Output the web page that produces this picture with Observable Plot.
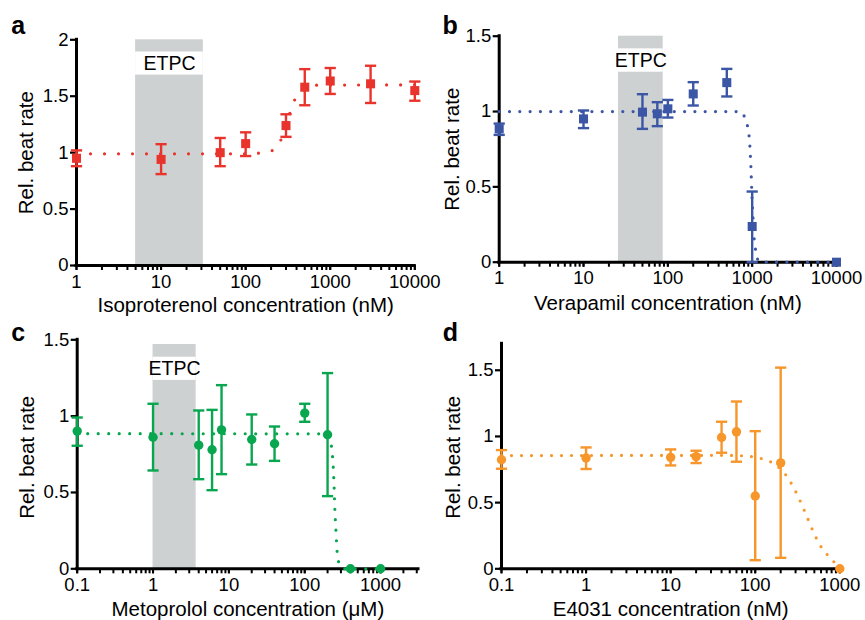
<!DOCTYPE html>
<html><head><meta charset="utf-8">
<script src="https://cdn.jsdelivr.net/npm/d3@7"></script>
<script src="https://cdn.jsdelivr.net/npm/@observablehq/plot@0.6"></script>
<style>
html,body{margin:0;padding:0;background:#fff;}
#wrap{position:relative;width:865px;height:620px;overflow:hidden;background:#fff;}
.panel{position:absolute;}
</style></head><body><div id="wrap"></div>
<script>
// ---------- data ----------
// a: Isoproterenol (nM)
const isoConc = [1, 10, 50, 100, 300, 500, 1000, 3000, 10000];
const isoMean = [0.95, 0.94, 1.00, 1.08, 1.24, 1.58, 1.635, 1.61, 1.55];
const isoLo   = [0.88, 0.81, 0.88, 0.97, 1.14, 1.42, 1.52, 1.44, 1.46];
const isoHi   = [1.02, 1.075, 1.13, 1.18, 1.34, 1.74, 1.75, 1.77, 1.63];
const isoFitX = [1, 100, 140, 200, 258, 330, 371, 488, 650, 10000];
const isoFitY = [0.99, 0.99, 0.995, 1.015, 1.105, 1.34, 1.45, 1.557, 1.598, 1.6];
const isoEtpc = [5, 31.6];

// b: Verapamil (nM)
const verConc = [1, 10, 50, 75, 100, 200, 500, 1000, 10000];
const verMean = [0.885, 0.951, 0.996, 0.985, 1.018, 1.117, 1.192, 0.237, 0];
const verLo   = [0.845, 0.89, 0.885, 0.903, 0.96, 1.04, 1.10, 0, null];
const verHi   = [0.92, 1.007, 1.115, 1.062, 1.077, 1.195, 1.283, 0.469, null];
const verFitX = [1, 727, 832, 896, 929, 950, 968, 985, 1000, 1016, 1045, 1080, 1125, 1200, 1300, 10000];
const verFitY = [1.0, 1.0, 0.947, 0.88, 0.81, 0.72, 0.62, 0.5, 0.40, 0.33, 0.19, 0.11, 0.05, 0.005, 0, 0];
const verEtpc = [26, 88];

// c: Metoprolol (µM)
const metConc = [0.1, 1, 4, 6, 8, 20, 40, 100, 200, 400, 1000];
const metMean = [0.902, 0.862, 0.81, 0.78, 0.91, 0.847, 0.819, 1.02, 0.878, 0, 0];
const metLo   = [0.806, 0.644, 0.587, 0.515, 0.62, 0.683, 0.707, 0.963, 0.476, null, null];
const metHi   = [0.991, 1.081, 1.037, 1.041, 1.203, 1.011, 0.932, 1.081, 1.282, null, null];
const metFitX = [0.1, 150, 200, 223, 237, 244, 249, 257, 266, 276, 300, 330, 1000];
const metFitY = [0.885, 0.884, 0.875, 0.814, 0.675, 0.54, 0.40, 0.264, 0.126, 0.059, 0.01, 0, 0];
const metEtpc = [1, 3.7];

// d: E4031 (nM)
const e4Conc = [0.1, 1, 10, 20, 40, 60, 100, 200, 1000];
const e4Mean = [0.824, 0.837, 0.842, 0.847, 0.992, 1.035, 0.55, 0.80, 0];
const e4Lo   = [0.756, 0.754, 0.781, 0.799, 0.877, 0.809, 0.065, 0.083, null];
const e4Hi   = [0.897, 0.917, 0.902, 0.892, 1.111, 1.264, 1.04, 1.52, null];
const e4FitX = [0.1, 40, 70, 94, 124, 161, 243, 319, 401, 502, 570, 676, 812, 1000];
const e4FitY = [0.855, 0.857, 0.854, 0.846, 0.829, 0.799, 0.688, 0.55, 0.407, 0.26, 0.19, 0.123, 0.068, 0];

// axis ticks
const ticksNM = [1, 10, 100, 1000, 10000];
const ticksLow = [0.1, 1, 10, 100, 1000];
const yTicks2 = [0, 0.5, 1, 1.5, 2];
const yTicks15 = [0, 0.5, 1, 1.5];

// ---------- drawing ----------
const FONT = "'Liberation Sans', Arial, Helvetica, sans-serif";
const capSymbol = {draw(ctx, size) { const w = Math.sqrt(size / Math.PI); ctx.moveTo(-w, 0); ctx.lineTo(w, 0); }};

function minorTicks(lo, hi) {
  const out = [];
  for (let e = Math.floor(Math.log10(lo)); e <= Math.ceil(Math.log10(hi)); e++) {
    for (let k = 1; k <= 9; k++) {
      const v = +(k * Math.pow(10, e)).toPrecision(6);
      if (v >= lo * 0.999 && v <= hi * 1.001) out.push(v);
    }
  }
  return out;
}

function panel(cfg) {
  const pts = cfg.conc.map((c, i) => ({x: c, y: cfg.mean[i], lo: cfg.lo[i], hi: cfg.hi[i]}));
  const errs = pts.filter(d => d.lo != null && d.hi != null);
  const fit = cfg.fitX.map((x, i) => ({x, y: cfg.fitY[i]}));
  const g = cfg.geom;
  const marks = [];
  if (cfg.etpc) {
    const [a, b] = cfg.etpc;
    marks.push(Plot.rect([{x1: a, x2: b, y1: 0, y2: cfg.etpcTop}], {x1: "x1", x2: "x2", y1: "y1", y2: "y2", fill: "#cdd1d2"}));
    marks.push(Plot.rect([{x1: a, x2: b, y1: cfg.etpcBox[0], y2: cfg.etpcBox[1]}], {x1: "x1", x2: "x2", y1: "y1", y2: "y2", fill: "#ffffff"}));
    marks.push(Plot.text([{x: Math.sqrt(a * b), y: (cfg.etpcBox[0] + cfg.etpcBox[1]) / 2, t: "ETPC"}], {x: "x", y: "y", text: "t", fontSize: 19.5, fill: "#000"}));
  }
  marks.push(Plot.axisY({ticks: cfg.yTicks, tickSize: 6, tickPadding: 2, strokeWidth: 2.2, tickFormat: d => String(d), label: null}));
  marks.push(Plot.axisX({ticks: minorTicks(cfg.xDomain[0], cfg.xDomain[1]), tickSize: 5, strokeWidth: 2, tickFormat: () => "", label: null}));
  marks.push(Plot.axisX({ticks: cfg.xTicks, tickSize: 5, tickPadding: 4, strokeWidth: 2, tickFormat: d => String(d), label: null}));
  marks.push(Plot.ruleY([0], {strokeWidth: 3, strokeLinecap: "square"}));
  marks.push(Plot.ruleX([cfg.xDomain[0]], {strokeWidth: 3, strokeLinecap: "square"}));
  marks.push(Plot.line(fit, {x: "x", y: "y", stroke: cfg.color, strokeWidth: 3.2, strokeDasharray: `0 ${cfg.dash}`, strokeLinecap: "round", curve: "monotone-x"}));
  marks.push(Plot.ruleX(errs, {x: "x", y1: "lo", y2: "hi", stroke: cfg.color, strokeWidth: 2.4}));
  marks.push(Plot.dot(errs, {x: "x", y: "hi", symbol: capSymbol, r: 5.6, stroke: cfg.color, strokeWidth: 2.4, fill: "none"}));
  marks.push(Plot.dot(errs, {x: "x", y: "lo", symbol: capSymbol, r: 5.6, stroke: cfg.color, strokeWidth: 2.4, fill: "none"}));
  marks.push(Plot.dot(pts, {x: "x", y: "y", symbol: cfg.symbol, r: cfg.symbol === "square" ? 5.1 : 4.7, fill: cfg.color, stroke: "none"}));
  // titles
  marks.push(Plot.text([cfg.xTitle], {text: d => d, frameAnchor: "bottom", textAnchor: "middle", lineAnchor: "bottom", dy: cfg.xTitleDy, fontSize: 20.5, fill: "#000"}));
  marks.push(Plot.text(["Rel. beat rate"], {text: d => d, frameAnchor: "left", textAnchor: "middle", lineAnchor: "middle", rotate: -90, dx: cfg.yTitleDx, dy: cfg.yTitleDy || 0, fontSize: 20.5, fill: "#000"}));
  marks.push(Plot.text([cfg.letter], {text: d => d, frameAnchor: "top-left", textAnchor: "start", lineAnchor: "bottom", dx: cfg.letterDx, dy: cfg.letterDy, fontSize: 25, fontWeight: "bold", fill: "#000"}));

  const svg = Plot.plot({
    width: g.w, height: g.h,
    marginLeft: g.x0 - g.left, marginRight: g.left + g.w - g.x1,
    marginTop: g.y0 - g.top, marginBottom: g.top + g.h - g.y1,
    x: {type: "log", domain: cfg.xDomain, label: null},
    y: {domain: cfg.yDomain, label: null},
    style: {fontFamily: FONT, fontSize: "18.5px", color: "#000", background: "transparent", overflow: "visible"},
    marks
  });
  const div = document.createElement("div");
  div.className = "panel";
  div.style.left = g.left + "px";
  div.style.top = g.top + "px";
  div.appendChild(svg);
  document.getElementById("wrap").appendChild(div);
}

panel({
  conc: isoConc, mean: isoMean, lo: isoLo, hi: isoHi, fitX: isoFitX, fitY: isoFitY,
  color: "#e8342c", symbol: "square", dash: 14,
  xDomain: [1, 10000], yDomain: [0, 2], xTicks: ticksNM, yTicks: yTicks2,
  etpc: isoEtpc, etpcTop: 2, etpcBox: [1.687, 1.892],
  xTitle: "Isoproterenol concentration (nM)", xTitleDy: 46.4, yTitleDx: -49.6,
  letter: "a", letterDx: -65.3, letterDy: -6,
  geom: {left: 0, top: 0, w: 432, h: 320, x0: 76, x1: 414.3, y0: 39.3, y1: 265}
});
panel({
  conc: verConc, mean: verMean, lo: verLo, hi: verHi, fitX: verFitX, fitY: verFitY,
  color: "#3b56a5", symbol: "square", dash: 10.3,
  xDomain: [1, 10000], yDomain: [0, 1.5], xTicks: ticksNM, yTicks: yTicks15,
  etpc: verEtpc, etpcTop: 1.5, etpcBox: [1.261, 1.416],
  xTitle: "Verapamil concentration (nM)", xTitleDy: 48, yTitleDx: -47,
  letter: "b", letterDx: -56.7, letterDy: -2.7,
  geom: {left: 432, top: 0, w: 433, h: 320, x0: 498.7, x1: 836, y0: 35.7, y1: 261.7}
});
panel({
  conc: metConc, mean: metMean, lo: metLo, hi: metHi, fitX: metFitX, fitY: metFitY,
  color: "#08a64f", symbol: "circle", dash: 10.5,
  xDomain: [0.1, 3162], yDomain: [0, 1.5], xTicks: ticksLow, yTicks: yTicks15,
  etpc: metEtpc, etpcTop: 1.469, etpcBox: [1.234, 1.386],
  xTitle: "Metoprolol concentration (μM)", xTitleDy: 47, yTitleDx: -49.3, yTitleDy: 3,
  letter: "c", letterDx: -66, letterDy: 0.7,
  geom: {left: 0, top: 320, w: 432, h: 300, x0: 76.7, x1: 418, y0: 339.3, y1: 568.3}
});
panel({
  conc: e4Conc, mean: e4Mean, lo: e4Lo, hi: e4Hi, fitX: e4FitX, fitY: e4FitY,
  color: "#f6962b", symbol: "circle", dash: 10,
  xDomain: [0.1, 1000], yDomain: [0, 1.7], xTicks: ticksLow, yTicks: yTicks15,
  etpc: null,
  xTitle: "E4031 concentration (nM)", xTitleDy: 47, yTitleDx: -47.6, yTitleDy: 1,
  letter: "d", letterDx: -58.7, letterDy: -3.3,
  geom: {left: 432, top: 320, w: 433, h: 300, x0: 501, x1: 839.3, y0: 343.3, y1: 568.3}
});
</script></body></html>
